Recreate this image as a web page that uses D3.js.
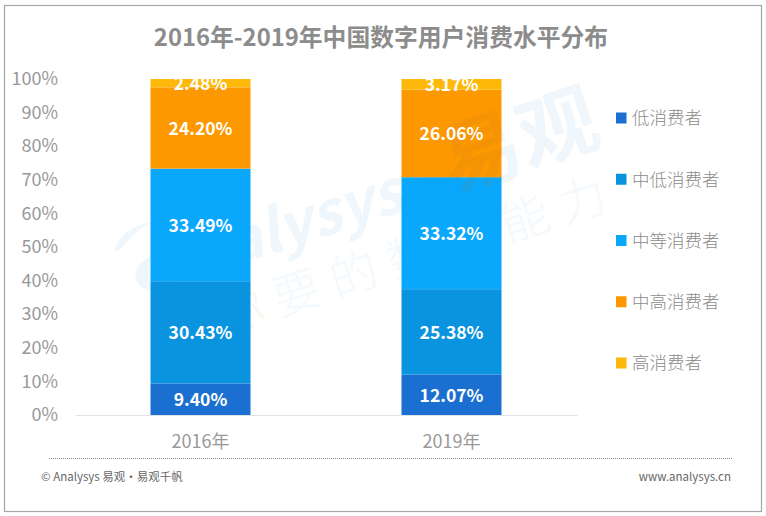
<!DOCTYPE html>
<html>
<head>
<meta charset="utf-8">
<script src="https://cdn.jsdelivr.net/npm/d3@7"></script>
<style>
  html, body { margin: 0; padding: 0; background: #fff; }
  text { font-family: "Noto Sans CJK SC", "Open Sans", sans-serif; }
</style>
</head>
<body>
<svg id="chart" width="766" height="516"></svg>
<script>
// chart values
var years = ['2016年', '2019年'];
var seriesNames = ['低消费者', '中低消费者', '中等消费者', '中高消费者', '高消费者'];
var low = [9.40, 12.07];
var midLow = [30.43, 25.38];
var mid = [33.49, 33.32];
var midHigh = [24.20, 26.06];
var high = [2.48, 3.17];
var seriesColors = ['#1b6fd0', '#0a94e0', '#0aa8fc', '#fd9800', '#fdb809'];
var yTicks = [0, 10, 20, 30, 40, 50, 60, 70, 80, 90, 100];

var seriesValues = [low, midLow, mid, midHigh, high];

var svg = d3.select('#chart');

// outer frame
svg.append('rect').attr('x', 4.5).attr('y', 5.5).attr('width', 757).attr('height', 506)
  .attr('fill', '#fff').attr('stroke', '#a6a6a6').attr('stroke-width', 1.2);

// faint watermark behind the bars
svg.append('path').attr('fill', '#eff7fc')
  .attr('d', 'M113,252 Q124,226 151,222 Q134,232 120,250 Z M151,256 Q132,266 136,280 Q140,289 151,291 Q148,272 151,256 Z');
var mark = svg.append('g').attr('transform', 'translate(160,290) rotate(-18)');
mark.append('text').attr('x', 0).attr('y', 0).attr('font-size', 60).attr('font-weight', 700)
  .attr('font-style', 'italic').attr('fill', '#eff7fc').text('Analysys');
mark.append('text').attr('x', 308).attr('y', -3).attr('font-size', 80).attr('font-weight', 700)
  .attr('fill', '#eff7fc').text('易观');
var slogan = mark.append('text').attr('x', 45).attr('y', 62).attr('font-size', 48).attr('font-weight', 300)
  .attr('letter-spacing', 12).attr('fill', '#f3f9fc');
slogan.append('tspan').attr('fill', '#fdf3ea').text('你');
slogan.append('tspan').text('要的数据能力');

var x = d3.scaleBand().domain(years).range([75, 577]);
var y = d3.scaleLinear().domain([0, 100]).range([415, 79]);
var barWidth = 100;

// stacked bars
var rows = years.map(function(year, i) {
  var row = { year: year };
  seriesNames.forEach(function(name, s) { row[name] = seriesValues[s][i]; });
  return row;
});
var stack = d3.stack().keys(seriesNames)(rows);

var layers = svg.append('g').selectAll('g').data(stack).enter().append('g')
  .attr('fill', function(d, s) { return seriesColors[s]; });

layers.selectAll('rect').data(function(d) { return d; }).enter().append('rect')
  .attr('x', function(d) { return x(d.data.year) + x.bandwidth() / 2 - barWidth / 2; })
  .attr('width', barWidth)
  .attr('y', function(d) { return y(Math.min(d[1], 100)); })
  .attr('height', function(d) { return y(d[0]) - y(Math.min(d[1], 100)); });

var defs = svg.append('defs');

// the big watermark character also shows faintly over the second bar, not past it
defs.append('clipPath').attr('id', 'bar-clip').append('rect')
  .attr('x', x(years[1]) + x.bandwidth() / 2 - barWidth / 2)
  .attr('width', barWidth)
  .attr('y', y(100))
  .attr('height', y(0) - y(100));
svg.append('g').attr('clip-path', 'url(#bar-clip)').append('text')
  .attr('transform', 'translate(160,290) rotate(-18)')
  .attr('x', 308).attr('y', -3).attr('font-size', 80).attr('font-weight', 700)
  .attr('fill', '#a8702a').attr('opacity', 0.1).text('易');

// value labels, the top ones get cut off by the bar edge like the original
defs.append('clipPath').attr('id', 'top-clip').append('rect')
  .attr('x', 0).attr('width', 766).attr('y', y(100)).attr('height', 400);

var labels = svg.append('g').attr('clip-path', 'url(#top-clip)');
stack.forEach(function(layer) {
  labels.selectAll(null).data(layer).enter().append('text')
    .attr('x', function(d) { return x(d.data.year) + x.bandwidth() / 2; })
    .attr('y', function(d) { return y((d[0] + d[1]) / 2) + 0.5; })
    .attr('dy', '0.36em')
    .attr('text-anchor', 'middle')
    .attr('font-size', 17.5)
    .attr('font-weight', 700)
    .attr('fill', '#fff')
    .text(function(d) { return (d[1] - d[0]).toFixed(2) + '%'; });
});

// y axis
var yAxis = d3.axisLeft(y).tickValues(yTicks).tickSize(0).tickPadding(0)
  .tickFormat(function(d) { return d + '%'; });
var yG = svg.append('g').attr('transform', 'translate(58,0)').call(yAxis);
yG.select('.domain').remove();
yG.selectAll('text').attr('font-size', 18).attr('fill', '#999');

// x axis
var xAxis = d3.axisBottom(x).tickSize(0).tickPadding(20);
var xG = svg.append('g').attr('transform', 'translate(0,415)').call(xAxis);
xG.select('.domain').attr('stroke', '#dfe3e6');
xG.selectAll('text').attr('font-size', 18).attr('fill', '#999');

// title
svg.append('text').attr('x', 381).attr('y', 46).attr('text-anchor', 'middle')
  .attr('font-size', 23.8).attr('font-weight', 700).attr('fill', '#8c8c8c')
  .text('2016年-2019年中国数字用户消费水平分布');

// legend
var legend = d3.scalePoint().domain(seriesNames).range([118, 363]);
var items = svg.append('g').selectAll('g').data(seriesNames).enter().append('g')
  .attr('transform', function(d) { return 'translate(0,' + legend(d) + ')'; });
items.append('rect').attr('x', 616).attr('y', -5.5).attr('width', 10.5).attr('height', 11)
  .attr('fill', function(d, i) { return seriesColors[i]; });
items.append('text').attr('x', 632).attr('dy', '0.36em')
  .attr('font-size', 17.5).attr('font-weight', 300).attr('fill', '#8c8c8c')
  .text(function(d) { return d; });

// footer
svg.append('line').attr('x1', 49).attr('x2', 733).attr('y1', 458.5).attr('y2', 458.5)
  .attr('stroke', '#888').attr('stroke-width', 1).attr('stroke-dasharray', '1 1');
svg.append('text').attr('x', 41).attr('y', 481).attr('font-size', 11.5).attr('fill', '#666')
  .text('© Analysys 易观·易观千帆');
svg.append('text').attr('x', 731).attr('y', 481).attr('text-anchor', 'end')
  .attr('font-size', 11.5).attr('fill', '#666').text('www.analysys.cn');
</script>
</body>
</html>
